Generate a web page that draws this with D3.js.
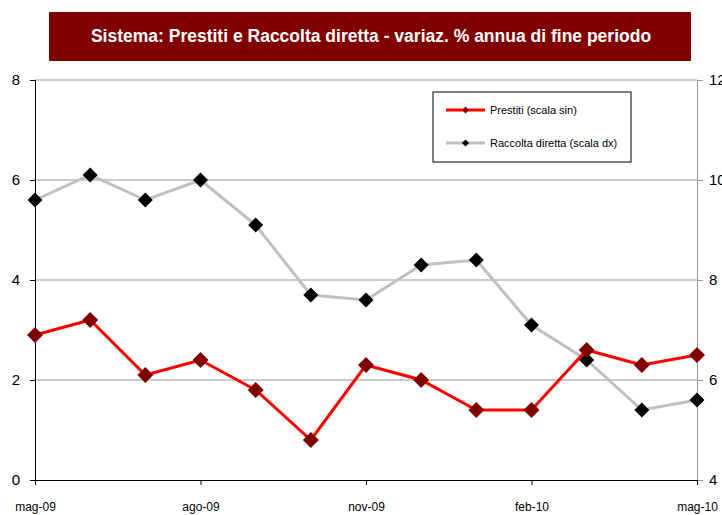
<!DOCTYPE html>
<html>
<head>
<meta charset="utf-8">
<script src="https://cdnjs.cloudflare.com/ajax/libs/d3/7.8.5/d3.min.js"></script>
<style>
	body { margin: 0; background: #fff; }
	text { font-family: "Liberation Sans", Arial, sans-serif; }
</style>
</head>
<body>
<script>
// data
var months = ['mag-09', 'giu-09', 'lug-09', 'ago-09', 'set-09', 'ott-09', 'nov-09',
	'dic-09', 'gen-10', 'feb-10', 'mar-10', 'apr-10', 'mag-10'];
var prestiti = [2.9, 3.2, 2.1, 2.4, 1.8, 0.8, 2.3, 2.0, 1.4, 1.4, 2.6, 2.3, 2.5];
var raccolta = [9.6, 10.1, 9.6, 10.0, 9.1, 7.7, 7.6, 8.3, 8.4, 7.1, 6.4, 5.4, 5.6];
var leftTicks = [0, 2, 4, 6, 8];
var rightTicks = [4, 6, 8, 10, 12];
var xLabels = ['mag-09', 'ago-09', 'nov-09', 'feb-10', 'mag-10'];
var title = 'Sistema: Prestiti e Raccolta diretta - variaz. % annua di fine periodo';

var W = 722, H = 515;
var margin = { top: 80, right: 25, bottom: 35, left: 35 },
	width = W - margin.left - margin.right,
	height = H - margin.top - margin.bottom;

var svg = d3.select('body').append('svg')
	.attr('width', W)
	.attr('height', H);

// title banner
svg.append('rect')
	.attr('x', 49).attr('y', 12)
	.attr('width', 642).attr('height', 49)
	.attr('rx', 1)
	.attr('fill', '#800000');
svg.append('text')
	.attr('x', 371).attr('y', 42)
	.attr('text-anchor', 'middle')
	.attr('fill', '#fff')
	.attr('font-size', 17.5)
	.attr('font-weight', 'bold')
	.text(title);

var x = d3.scalePoint().domain(months).range([0, width]);
var yL = d3.scaleLinear().domain([0, 8]).range([height, 0]);
var yR = d3.scaleLinear().domain([4, 12]).range([height, 0]);

var g = svg.append('g')
	.attr('transform', `translate(${margin.left}, ${margin.top})`);

// gridlines
g.append('g').selectAll('line')
	.data(leftTicks.filter(function(d) { return d > 0; }))
	.join('line')
	.attr('x1', 0).attr('x2', width)
	.attr('y1', yL).attr('y2', yL)
	.attr('stroke', '#999').attr('stroke-width', 1);

// right axis (grey)
var axR = g.append('g')
	.attr('transform', `translate(${width}, 0)`)
	.call(d3.axisRight(yR).tickValues(rightTicks).tickSize(6).tickPadding(6));
axR.select('.domain').attr('stroke', '#999');
axR.selectAll('.tick line').attr('stroke', '#999');
axR.selectAll('text').attr('font-size', 15).attr('fill', '#000')
	.attr('font-family', '"Liberation Sans", Arial, sans-serif');

// left axis
var axL = g.append('g')
	.call(d3.axisLeft(yL).tickValues(leftTicks).tickSize(5).tickPadding(10));
axL.select('.domain').attr('stroke', '#000');
axL.selectAll('.tick line').attr('stroke', '#000');
axL.selectAll('text').attr('font-size', 15).attr('fill', '#000')
	.attr('font-family', '"Liberation Sans", Arial, sans-serif');

// x axis
var axX = g.append('g')
	.attr('transform', `translate(0, ${height})`)
	.call(d3.axisBottom(x).tickValues(xLabels).tickSize(5).tickPadding(17));
axX.select('.domain').attr('stroke', '#000');
axX.selectAll('.tick line').attr('stroke', '#000');
axX.selectAll('text').attr('font-size', 12).attr('fill', '#000')
	.attr('font-family', '"Liberation Sans", Arial, sans-serif');

var diamond = function(r) {
	return `M0,${-r}L${r},0L0,${r}L${-r},0Z`;
};

// raccolta (right scale)
var lineR = d3.line()
	.x(function(d, i) { return x(months[i]); })
	.y(function(d) { return yR(d); });
g.append('path')
	.datum(raccolta)
	.attr('d', lineR)
	.attr('fill', 'none')
	.attr('stroke', '#c0c0c0')
	.attr('stroke-width', 3);

// prestiti (left scale)
var lineL = d3.line()
	.x(function(d, i) { return x(months[i]); })
	.y(function(d) { return yL(d); });
g.append('path')
	.datum(prestiti)
	.attr('d', lineL)
	.attr('fill', 'none')
	.attr('stroke', '#ff0000')
	.attr('stroke-width', 3);

g.append('g').selectAll('path')
	.data(raccolta)
	.join('path')
	.attr('transform', function(d, i) { return `translate(${x(months[i])}, ${yR(d)})`; })
	.attr('d', diamond(7.5))
	.attr('fill', '#000');

g.append('g').selectAll('path')
	.data(prestiti)
	.join('path')
	.attr('transform', function(d, i) { return `translate(${x(months[i])}, ${yL(d)})`; })
	.attr('d', diamond(8))
	.attr('fill', '#800000');

// legend
var legend = svg.append('g').attr('transform', 'translate(433, 92)');
legend.append('rect')
	.attr('width', 198).attr('height', 70)
	.attr('fill', '#fff')
	.attr('stroke', '#000').attr('stroke-width', 1);
var items = [
	{ name: 'Prestiti (scala sin)', line: '#ff0000', mark: '#800000', y: 18 },
	{ name: 'Raccolta diretta (scala dx)', line: '#c0c0c0', mark: '#000', y: 61 - 10 }
];
items.forEach(function(it) {
	legend.append('line')
		.attr('x1', 13).attr('x2', 52)
		.attr('y1', it.y).attr('y2', it.y)
		.attr('stroke', it.line).attr('stroke-width', 3);
	legend.append('path')
		.attr('transform', `translate(32.5, ${it.y})`)
		.attr('d', diamond(3.5))
		.attr('fill', it.mark);
	legend.append('text')
		.attr('x', 57).attr('y', it.y + 4)
		.attr('font-size', 11)
		.text(it.name);
});
</script>
</body>
</html>
